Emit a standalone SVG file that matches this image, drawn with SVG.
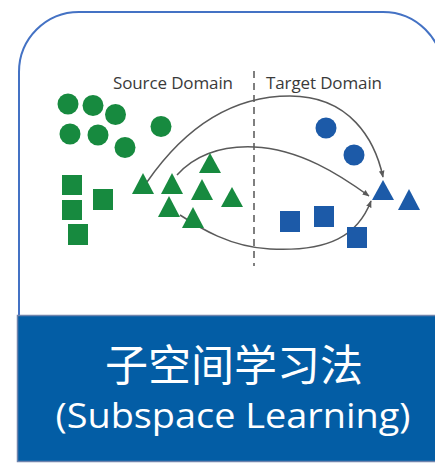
<svg xmlns="http://www.w3.org/2000/svg" width="435" height="464" viewBox="0 0 435 464">
  <style>
    .frame { fill: none; stroke: #4472C4; stroke-width: 2; }
    .src { fill: #178A3F; }
    .tgt { fill: #1C5AA8; }
    .arc { fill: none; stroke: #5a5a5a; stroke-width: 1.5; }
    .domain { font-family: "Open Sans", "Noto Sans", sans-serif; font-size: 17px; fill: #3a3a3a; }
    .title { fill: #ffffff; text-anchor: middle; }
  </style>
  <defs>
    <marker id="arrow" viewBox="0 0 10 10" refX="9" refY="5" markerWidth="7" markerHeight="7" orient="auto" markerUnits="userSpaceOnUse">
      <path d="M0,1 L10,5 L0,9 Z" fill="#5a5a5a"/>
    </marker>
  </defs>

  <rect width="435" height="464" fill="#ffffff"/>

  <!-- card outline -->
  <path class="frame" d="M19,316 L19,72 A60,60 0 0 1 79,12 L383,12 A60,60 0 0 1 443,72 L443,316"/>

  <!-- domain labels and divider -->
  <g id="labels">
    <text class="domain" x="173" y="89" text-anchor="middle" textLength="120">Source Domain</text>
    <text class="domain" x="324" y="89" text-anchor="middle" textLength="116">Target Domain</text>
    <line x1="254" y1="71" x2="254" y2="266" stroke="#555" stroke-width="1.5" stroke-dasharray="7,5"/>
  </g>

  <!-- mapping arcs from source triangles to target triangle -->
  <g id="connectors">
    <path class="arc" d="M147,182 C190,120 240,96 290,96 C350,96 375,140 383,177" marker-end="url(#arrow)"/>
    <path class="arc" d="M177,175 C200,150 230,146 254,147 C300,149 340,175 369,196" marker-end="url(#arrow)"/>
    <path class="arc" d="M180,215 C200,228 230,247 270,249 C330,252 358,235 371,201" marker-end="url(#arrow)"/>
  </g>

  <!-- source domain samples -->
  <g id="source-circles" class="src">
    <circle cx="68" cy="104" r="10.5"/>
    <circle cx="93" cy="105.5" r="10.5"/>
    <circle cx="115.5" cy="114.5" r="10.5"/>
    <circle cx="70" cy="134" r="10.5"/>
    <circle cx="98" cy="135" r="10.5"/>
    <circle cx="125" cy="147.5" r="10.5"/>
    <circle cx="161" cy="126.5" r="10.5"/>
  </g>
  <g id="source-squares" class="src">
    <rect x="62" y="175" width="20" height="20"/>
    <rect x="62" y="200" width="20" height="20"/>
    <rect x="68" y="224" width="20" height="21"/>
    <rect x="93" y="189" width="20" height="21"/>
  </g>
  <g id="source-triangles" class="src">
    <polygon points="143,173 132,194 154,194"/>
    <polygon points="172,173 161,194 183,194"/>
    <polygon points="210,153 199,173 221,173"/>
    <polygon points="202,179 191,200 213,200"/>
    <polygon points="232,187 221,207 243,207"/>
    <polygon points="169,196 158,217 180,217"/>
    <polygon points="193,207 182,228 204,228"/>
  </g>

  <!-- target domain samples -->
  <g id="target-circles" class="tgt">
    <circle cx="326" cy="128" r="10.5"/>
    <circle cx="354" cy="155" r="10.5"/>
  </g>
  <g id="target-squares" class="tgt">
    <rect x="280" y="211" width="20" height="21"/>
    <rect x="314" y="206" width="20" height="21"/>
    <rect x="347" y="227" width="20" height="21"/>
  </g>
  <g id="target-triangles" class="tgt">
    <polygon points="383,180 372,200 394,200"/>
    <polygon points="409,189 398,210 420,210"/>
  </g>

  <!-- caption bar -->
  <g id="caption">
    <rect x="17.5" y="315.5" width="430" height="146" fill="#035DA5" stroke="#6f84ad" stroke-width="1.5"/>
    <text class="title" x="234" y="381" font-family="'Noto Sans CJK SC', sans-serif" font-size="43">子空间学习法</text>
    <text class="title" x="233" y="428" font-family="'Open Sans', 'Noto Sans', sans-serif" font-size="35" textLength="355" lengthAdjust="spacingAndGlyphs">(Subspace Learning)</text>
  </g>
</svg>
